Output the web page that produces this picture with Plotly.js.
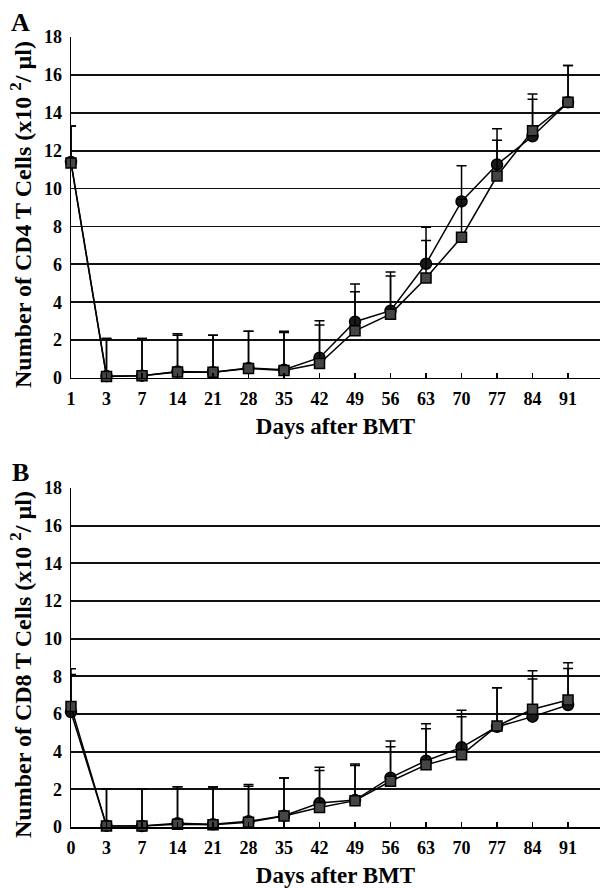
<!DOCTYPE html>
<html>
<head>
<meta charset="utf-8">
<script src="https://cdn.plot.ly/plotly-3.0.1.min.js"></script>
<style>html,body{margin:0;padding:0;background:#fff;}#chart{width:601px;height:888px;}</style>
</head>
<body>
<div id="chart"></div>
<script>
// Panel A: CD4 T cells
const daysA = ['1','3','7','14','21','28','35','42','49','56','63','70','77','84','91'];
const cd4Circle = [11.4, 0.1, 0.12, 0.34, 0.3, 0.52, 0.43, 1.07, 2.97, 3.55, 6.03, 9.32, 11.27, 12.76, 14.55];
const cd4CircleErr = [1.9, 1.98, 1.96, 2.0, 1.96, 1.95, 2.04, 1.95, 1.99, 2.05, 1.93, 1.88, 1.89, 1.95, 1.95];
const cd4Square = [11.35, 0.08, 0.12, 0.32, 0.3, 0.5, 0.4, 0.76, 2.49, 3.37, 5.28, 7.43, 10.66, 13.05, 14.55];
const cd4SquareErr = [1.95, 2.0, 1.96, 1.94, 1.96, 1.97, 2.0, 2.03, 2.06, 2.01, 1.98, 2.0, 1.89, 1.94, 1.95];

// Panel B: CD8 T cells
const daysB = ['0','3','7','14','21','28','35','42','49','56','63','70','77','84','91'];
const cd8Circle = [6.1, 0.07, 0.05, 0.2, 0.14, 0.3, 0.6, 1.27, 1.43, 2.62, 3.52, 4.23, 5.32, 5.86, 6.48];
const cd8CircleErr = [2.0, 1.96, 1.98, 1.94, 1.98, 1.96, 2.0, 1.9, 1.91, 1.94, 1.96, 1.97, 2.08, 2.0, 1.94];
const cd8Square = [6.4, 0.05, 0.05, 0.15, 0.12, 0.25, 0.58, 1.04, 1.4, 2.43, 3.3, 3.83, 5.36, 6.25, 6.74];
const cd8SquareErr = [2.0, 1.98, 1.98, 1.99, 2.0, 1.92, 2.02, 1.96, 1.87, 1.83, 1.92, 2.03, 2.04, 2.05, 1.98];

const yTicks = [0, 2, 4, 6, 8, 10, 12, 14, 16, 18];
const yTitleA = 'Number of CD4 T Cells (x10 <sup>2</sup>/ µl)';
const yTitleB = 'Number of CD8 T Cells (x10 <sup>2</sup>/ µl)';
const xTitle = 'Days after BMT';

const FONT = 'Liberation Serif, Times New Roman, serif';

function series(x, y, err, symbol, xa, ya) {
  const isSq = symbol === 'square';
  return {
    x: x, y: y, xaxis: xa, yaxis: ya,
    type: 'scatter', mode: 'lines+markers',
    line: {color: '#000', width: 1.5},
    marker: {symbol: symbol, size: isSq ? 10 : 11,
             color: isSq ? '#454545' : '#1a1a1a',
             line: {color: '#000', width: 1.5}},
    error_y: {type: 'data', symmetric: false, array: err,
              arrayminus: err.map(() => 0), color: '#000',
              thickness: 1.5, width: 5},
    showlegend: false, cliponaxis: false, hoverinfo: 'skip'
  };
}

const data = [
  series(daysA, cd4Circle, cd4CircleErr, 'circle', 'x', 'y'),
  series(daysA, cd4Square, cd4SquareErr, 'square', 'x', 'y'),
  series(daysB, cd8Circle, cd8CircleErr, 'circle', 'x2', 'y2'),
  series(daysB, cd8Square, cd8SquareErr, 'square', 'x2', 'y2')
];

const tickFont = {family: FONT, size: 18, color: '#000', weight: 'bold'};
const xTitleFont = {family: FONT, size: 23, color: '#000', weight: 'bold'};
const yTitleFont = {family: FONT, size: 24, color: '#000', weight: 'bold'};

function xAxis(cats, anchor, standoff) {
  return {
    type: 'category', categoryarray: cats, categoryorder: 'array',
    range: [0, 14.9], anchor: anchor,
    showgrid: false, zeroline: false,
    showline: true, linecolor: '#000', linewidth: 1.5,
    ticks: 'inside', ticklen: 5, tickwidth: 1.2, tickcolor: '#000',
    tickfont: tickFont, ticklabelstandoff: 4,
    title: {text: xTitle, font: xTitleFont, standoff: standoff},
    fixedrange: true
  };
}
function yAxis(domain, anchor) {
  return {
    domain: domain, anchor: anchor, range: [0, 18],
    tickvals: yTicks, ticktext: yTicks.map(String),
    showgrid: true, gridcolor: '#111', gridwidth: 1.8,
    zeroline: false, showline: true, linecolor: '#000', linewidth: 1.5,
    ticks: '', tickfont: tickFont, ticklabelstandoff: 4,
    fixedrange: true
  };
}

// pixel -> paper helpers
const L = 71, R = 1, T = 37, B = 61, W = 601, H = 888;
const pw = W - L - R, ph = H - T - B;
const px = v => (v - L) / pw;
const py = v => 1 - (v - T) / ph;

function ann(text, x, y, size, angle) {
  return {text: text, x: px(x), y: py(y), xref: 'paper', yref: 'paper',
          xanchor: 'center', yanchor: 'middle', showarrow: false,
          textangle: angle || 0,
          font: {family: FONT, size: size, color: '#000', weight: 'bold'}};
}

const layout = {
  width: W, height: H,
  margin: {l: L, r: R, t: T, b: B, autoexpand: false},
  paper_bgcolor: '#fff', plot_bgcolor: '#fff',
  font: {family: FONT, color: '#000'},
  xaxis: xAxis(daysA, 'y', 10),
  yaxis: yAxis([0.5684, 1], 'x'),
  xaxis2: xAxis(daysB, 'y2', 12),
  yaxis2: yAxis([0, 0.4291], 'x2'),
  annotations: [
    ann('A', 20, 23, 26),
    ann('B', 20, 472, 26),
    ann(yTitleA, 21, 215, 24, -90),
    ann(yTitleB, 21, 665, 24, -90)
  ]
};

Plotly.newPlot('chart', data, layout, {displayModeBar: false, staticPlot: true});
</script>
</body>
</html>
